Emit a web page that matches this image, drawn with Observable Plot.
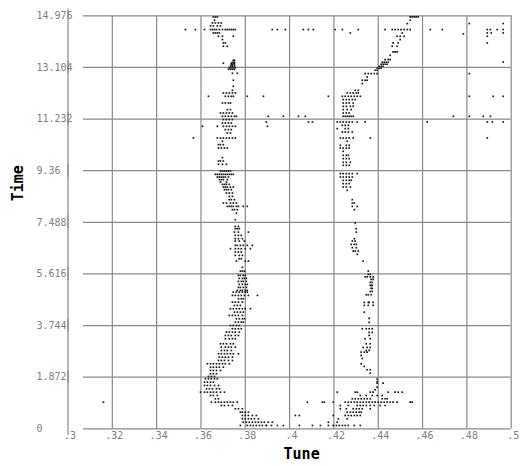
<!DOCTYPE html>
<html><head><meta charset="utf-8">
<script src="https://cdn.jsdelivr.net/npm/d3@7"></script>
<script src="https://cdn.jsdelivr.net/npm/@observablehq/plot@0.6"></script>
<style>
html,body{margin:0;padding:0;background:#fff;}
g[aria-label="tick-label"] text { letter-spacing: 1.6px; }
g[aria-label="points"] path { shape-rendering: crispEdges; }
</style></head><body><div id="chart"></div>
<script>
const xTitle = "Tune";
const yTitle = "Time";
const xTicks = [0.30, 0.32, 0.34, 0.36, 0.38, 0.40, 0.42, 0.44, 0.46, 0.48, 0.50];
const xTickLabels = [".3", ".32", ".34", ".36", ".38", ".4", ".42", ".44", ".46", ".48", ".5"];
const yTicks = [0, 1.872, 3.744, 5.616, 7.488, 9.36, 11.232, 13.104, 14.976];
const yTickLabels = ["0", "1.872", "3.744", "5.616", "7.488", "9.36", "11.232", "13.104", "14.976"];

// rows: [time, tune, tune, ...]
const leftBand = [
[14.935, .3656,.3665,.3674],
[14.815, .3661],
[14.717, .3652,.3665,.3679,.3692],
[14.608, .3643,.3656,.3674,.3688],
[14.477, .3643,.3652,.3661,.3670,.3683,.3697,.3710,.3719,.3728,.3737,.3746,.3755],
[14.354, .3656,.3665,.3674,.3683],
[14.234, .3679,.3697,.3746],
[14.115, .3697],
[13.991, .3701,.3710],
[13.872, .3701,.3719],
[13.364, .3746,.3751],
[13.291, .3742,.3751],
[13.255, .3701,.3737,.3746,.3751],
[13.200, .3737,.3742,.3751],
[13.146, .3733,.3742,.3751],
[13.092, .3728,.3737,.3746,.3755],
[13.037, .3724,.3733,.3742,.3751],
[12.892, .3742,.3764],
[12.638, .3746],
[12.420, .3746],
[12.275, .3742],
[12.177, .3701,.3715,.3728,.3742,.3755],
[12.057, .3634,.3710,.3724,.3737,.3746,.3809,.3882],
[11.814, .3697,.3710,.3724,.3733],
[11.575, .3719,.3733],
[11.451, .3688,.3701,.3715,.3728,.3742],
[11.332, .3697,.3710,.3724,.3737,.3751,.3760,.3904],
[11.212, .3701,.3715,.3728,.3742],
[11.088, .3697,.3710,.3724,.3737],
[10.969, .3607,.3674,.3701,.3715,.3728,.3742,.3755,.3900],
[10.849, .3710,.3724,.3737],
[10.726, .3719,.3733],
[10.544, .3566,.3674,.3688,.3701,.3715,.3728,.3742,.3755],
[10.425, .3697],
[10.305, .3679,.3688,.3701],
[10.181, .3679,.3692,.3706,.3719],
[9.833, .3697],
[9.710, .3679,.3688,.3701],
[9.590, .3679,.3697,.3715],
[9.347, .3688,.3697,.3706,.3715,.3724,.3733],
[9.227, .3665,.3674,.3683,.3692,.3701,.3710,.3719,.3728,.3737,.3746],
[9.129, .3674,.3683,.3692,.3701,.3710,.3724],
[9.035, .3683,.3692,.3701,.3719],
[8.948, .3688,.3715],
[8.864, .3697,.3706,.3715,.3728],
[8.766, .3701,.3710,.3719,.3733,.3746],
[8.672, .3706,.3715,.3724,.3737],
[8.549, .3715,.3728,.3742],
[8.429, .3728,.3742],
[8.309, .3728,.3737,.3751],
[8.186, .3701,.3715,.3733,.3746,.3760],
[8.066, .3719,.3728,.3737,.3746,.3760,.3769,.3791,.3809],
[7.946, .3742,.3751,.3764],
[7.823, .3760],
[7.583, .3755],
[7.340, .3755,.3769],
[7.257, .3755,.3764,.3773],
[7.133, .3751,.3769,.3814],
[7.014, .3755,.3769,.3782],
[6.894, .3755,.3769,.3787],
[6.807, .3755,.3773,.3796],
[6.651, .3755,.3764,.3778,.3791,.3809,.3832],
[6.531, .3733,.3755,.3769,.3782,.3800,.3823],
[6.408, .3755,.3769,.3782],
[6.288, .3755,.3773,.3787],
[6.168, .3773,.3782],
[6.081, .3760,.3800,.3814],
[5.853, .3787],
[5.718, .3778,.3787,.3796],
[5.562, .3769,.3778,.3791,.3800],
[5.454, .3773,.3787,.3796,.3805],
[5.345, .3769,.3782,.3791,.3805],
[5.236, .3773,.3787,.3800,.3809],
[5.127, .3769,.3778,.3791,.3805],
[5.018, .3764,.3778,.3787,.3800,.3809],
[4.956, .3746,.3760,.3773,.3787,.3800,.3809],
[4.837, .3742,.3755,.3769,.3782,.3796,.3814,.3855],
[4.717, .3769,.3782,.3791],
[4.594, .3742,.3755,.3769,.3787],
[4.474, .3751,.3764,.3778],
[4.354, .3733,.3746,.3760,.3773,.3787,.3800,.3823],
[4.231, .3751,.3764,.3778,.3791],
[4.111, .3728,.3742,.3755,.3769,.3787],
[3.991, .3760,.3773,.3787,.3796],
[3.868, .3755,.3769,.3782,.3791],
[3.748, .3733,.3746,.3760,.3773],
[3.628, .3742,.3755,.3769,.3782],
[3.505, .3715,.3728,.3742,.3755,.3773],
[3.385, .3710,.3724,.3737,.3755,.3769],
[3.266, .3710,.3728,.3742,.3755],
[3.084, .3688,.3701,.3715,.3733,.3746],
[2.961, .3692,.3710,.3724,.3737,.3755],
[2.841, .3692,.3706,.3719,.3737],
[2.721, .3679,.3692,.3706,.3719,.3733,.3746,.3769],
[2.598, .3683,.3697,.3710,.3724,.3742],
[2.478, .3679,.3692,.3706,.3724,.3742],
[2.358, .3629,.3643,.3656,.3670,.3683,.3697,.3710,.3728],
[2.235, .3643,.3656,.3670,.3683,.3701],
[2.115, .3643,.3656,.3670,.3688],
[1.996, .3643,.3656,.3670],
[1.898, .3634,.3647,.3661],
[1.814, .3620,.3634,.3647,.3661,.3674],
[1.691, .3616,.3629,.3643,.3656],
[1.571, .3616,.3629,.3643,.3661,.3679],
[1.451, .3625,.3638,.3652,.3670,.3683],
[1.328, .3598,.3616,.3629,.3643,.3656,.3670,.3688,.3706],
[1.208, .3643,.3656,.3674],
[1.089, .3665,.3679],
[0.965, .3647,.3665,.3679,.3692,.3706,.3719,.3733,.3746,.3764],
[0.845, .3692,.3706,.3724,.3742],
[0.726, .3755,.3769,.3787],
[0.602, .3778,.3787,.3800,.3814],
[0.483, .3787,.3800,.3814,.3832,.3850],
[0.363, .3787,.3800,.3814,.3827,.3841,.3859],
[0.239, .3791,.3805,.3818,.3832,.3846,.3859,.3873,.3886,.3904,.3922],
[0.120, .3778,.3809,.3823,.3836,.3850,.3864,.3877,.3895]
];

const rightBand = [
[14.935, .4544,.4553,.4562,.4571,.4580],
[14.815, .4544],
[14.695, .4531],
[14.477, .4431,.4463,.4476,.4490,.4503,.4517,.4531,.4544],
[14.354, .4508],
[14.234, .4485,.4499,.4517],
[14.115, .4499],
[13.991, .4467,.4490],
[13.872, .4463,.4485],
[13.665, .4467,.4476,.4485],
[13.545, .4454],
[13.389, .4431,.4445,.4454],
[13.291, .4418,.4427,.4436,.4445],
[13.219, .4413,.4422,.4431,.4440],
[13.146, .4404,.4413,.4422],
[13.074, .4395,.4404,.4413],
[13.001, .4386,.4395],
[12.881, .4341,.4355,.4368,.4382,.4395],
[12.758, .4350],
[12.638, .4328,.4341,.4350],
[12.518, .4328],
[12.275, .4296,.4310],
[12.177, .4260,.4274,.4287,.4301,.4310],
[12.057, .4238,.4251,.4265,.4278,.4292,.4305,.4319],
[11.938, .4242,.4256,.4269,.4283,.4296],
[11.814, .4242,.4256,.4269,.4287],
[11.694, .4242,.4256,.4274,.4287],
[11.575, .4242,.4260,.4278],
[11.451, .4242,.4256,.4269],
[11.332, .4242,.4251,.4260,.4269,.4278,.4287],
[11.125, .4215,.4229,.4242,.4256,.4269,.4283,.4305,.4341],
[11.005, .4238,.4251,.4265],
[10.885, .4215,.4251,.4265],
[10.762, .4238,.4251,.4265,.4283],
[10.544, .4229,.4242,.4256,.4269,.4287,.4364],
[10.425, .4260],
[10.280, .4229,.4256,.4269],
[10.181, .4229,.4242,.4256,.4269],
[10.062, .4242],
[9.917, .4242,.4256,.4265],
[9.797, .4242,.4256,.4269],
[9.663, .4242,.4256,.4274],
[9.554, .4242,.4256,.4269],
[9.253, .4229,.4242,.4256,.4269,.4283,.4305],
[9.129, .4229,.4242,.4256,.4269,.4283],
[9.010, .4242,.4256,.4269,.4278],
[8.890, .4242,.4256,.4269],
[8.766, .4242,.4256,.4274],
[8.647, .4260],
[8.309, .4283],
[8.186, .4283,.4292],
[8.066, .4283,.4305],
[7.946, .4292],
[7.460, .4296],
[7.257, .4301],
[7.133, .4301],
[6.894, .4292],
[6.807, .4283,.4296],
[6.687, .4278,.4292,.4301],
[6.567, .4283,.4301],
[6.444, .4287,.4296,.4310],
[6.324, .4305],
[6.081, .4332],
[5.718, .4355],
[5.600, .4355,.4364],
[5.510, .4341,.4350,.4364,.4377],
[5.420, .4368,.4377],
[5.310, .4364,.4373],
[5.200, .4364,.4368,.4373],
[5.090, .4368,.4373],
[4.980, .4364,.4373],
[4.860, .4346,.4355,.4368],
[4.583, .4337,.4355,.4359,.4377],
[4.474, .4337,.4355,.4377],
[4.231, .4337],
[4.002, .4359],
[3.857, .4359],
[3.628, .4328,.4346,.4359,.4373],
[3.494, .4359,.4373],
[3.385, .4359],
[3.266, .4341,.4364],
[3.084, .4346,.4364],
[2.950, .4332,.4350,.4364],
[2.841, .4346,.4359],
[2.779, .4323,.4337,.4350],
[2.660, .4323],
[2.550, .4328],
[2.358, .4323],
[2.260, .4337],
[2.141, .4350,.4364],
[2.017, .4364],
[1.807, .4395],
[1.716, .4395],
[1.655, .4395,.4422],
[1.509, .4395],
[1.415, .4386],
[1.328, .4215,.4296,.4305,.4364,.4377,.4445,.4476,.4490,.4508],
[1.208, .4319,.4346,.4373,.4395,.4418],
[1.089, .4283,.4296,.4310,.4323,.4337,.4350,.4364,.4418,.4431,.4440],
[0.965, .4197,.4251,.4265,.4278,.4292,.4305,.4319,.4332,.4346,.4359,.4373,.4386,.4400,.4413,.4427,.4440,.4454,.4467,.4485,.4544,.4553],
[0.845, .4229,.4265,.4305,.4319,.4332,.4346,.4364,.4382,.4409,.4431],
[0.726, .4229,.4256,.4287,.4301,.4314,.4328,.4364],
[0.602, .4260,.4274,.4287,.4301,.4314,.4323],
[0.483, .4197,.4251,.4265,.4278,.4292,.4305,.4319],
[0.363, .4220,.4260],
[0.239, .4175,.4215],
[0.120, .4139,.4175,.4197,.4211,.4224,.4238,.4251,.4265,.4292,.4319]
];

const strays = [
[14.695, .4811,.4964],
[14.477, .3530,.3575,.3616,.3922,.3945,.3981,.4062,.4085,.4107,.4206,.4238,.4310,.4635,.4689,.4892,.4906,.4937,.4964],
[14.354, .4274,.4892,.4910,.4964],
[14.320, .4784],
[14.234, .4892],
[13.991, .4892],
[13.302, .4964],
[12.881, .4811],
[12.057, .4175,.4811,.4919,.4964],
[11.332, .3972,.4040,.4071,.4739,.4811,.4874,.4906],
[11.125, .3895,.4085,.4103,.4621,.4892,.4915,.4964],
[10.544, .4892],
[0.965, .3160,.4080,.4148,.4157],
[0.483, .4026,.4044],
[0.120, .3895,.3918,.3945,.3972,.4044,.4103]
];

const points = [...leftBand, ...rightBand, ...strays]
  .flatMap(([time, ...tunes]) => tunes.map(tune => ({tune, time})));

const gridColor = "#8a8a8a";
const mono = "'DejaVu Sans Mono', 'Liberation Mono', monospace";

const chart = Plot.plot({
  width: 521, height: 466,
  marginLeft: 67.5, marginRight: 10.3, marginTop: 15.3, marginBottom: 37.7,
  x: {domain: [xTicks[0], xTicks[xTicks.length - 1]], axis: null},
  y: {domain: [yTicks[0], yTicks[yTicks.length - 1]], axis: null},
  style: {background: "white", fontFamily: mono},
  marks: [
    Plot.ruleY(yTicks, {y: d => d, insetLeft: 15.5, stroke: gridColor, strokeWidth: 1.2}),
    Plot.ruleX(xTicks.slice(1), {x: d => d, stroke: gridColor, strokeWidth: 1.2}),
    Plot.ruleX(d3.pairs(yTicks), {x: () => xTicks[0], y1: d => d[0], y2: d => d[1], insetTop: 6.5, insetBottom: 6.5, stroke: gridColor, strokeWidth: 1.2}),
    Plot.dot(points, {x: "tune", y: "time", symbol: "square", r: 0.95, fill: "#1a1a1a", ariaLabel: "points"}),
    Plot.text(yTicks, {y: d => d, text: (d, i) => yTickLabels[i], frameAnchor: "left", dx: -31.5, textAnchor: "start", fill: "#808080", fontSize: 10, ariaLabel: "tick-label"}),
    Plot.text(xTicks, {x: d => d, text: (d, i) => xTickLabels[i], frameAnchor: "bottom", dy: 10, dx: 2, fill: "#808080", fontSize: 10, ariaLabel: "tick-label"}),
    Plot.text([xTitle], {frameAnchor: "bottom", dx: 12, dy: 30, fill: "black", fontSize: 15, fontWeight: "bold", ariaLabel: "x-title"}),
    Plot.text([yTitle], {frameAnchor: "left", dx: -50, dy: -21, rotate: -90, fill: "black", fontSize: 15, fontWeight: "bold", ariaLabel: "y-title"})
  ]
});
d3.select(chart).selectAll('g[aria-label="x-title"] text').attr("textLength", 60).attr("lengthAdjust", "spacingAndGlyphs");
d3.select(chart).selectAll('g[aria-label="y-title"] text').attr("textLength", 55).attr("lengthAdjust", "spacingAndGlyphs");
document.getElementById("chart").append(chart);
</script></body></html>
